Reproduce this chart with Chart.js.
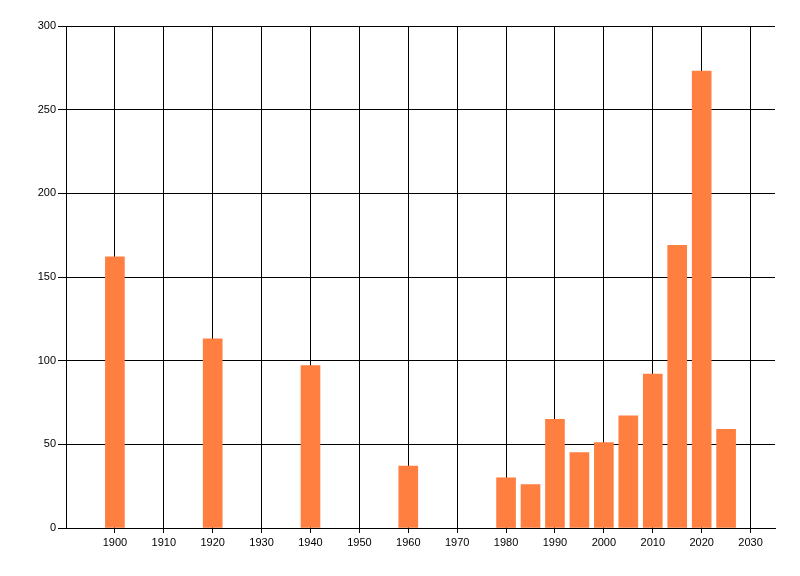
<!DOCTYPE html>
<html>
<head>
<meta charset="utf-8">
<script src="https://cdn.jsdelivr.net/npm/chart.js@4.4.1/dist/chart.umd.min.js"></script>
<style>
  html, body { margin: 0; padding: 0; background: #fff; }
</style>
</head>
<body>
<canvas id="chart" width="800" height="576"></canvas>
<script>
// values
const years = [1900, 1920, 1940, 1960, 1980, 1985, 1990, 1995, 2000, 2005, 2010, 2015, 2020, 2025];
const counts = [162, 113, 97, 37, 30, 26, 65, 45, 51, 67, 92, 169, 273, 59];
const xTickLabels = [1900, 1910, 1920, 1930, 1940, 1950, 1960, 1970, 1980, 1990, 2000, 2010, 2020, 2030];
const yTickLabels = [0, 50, 100, 150, 200, 250, 300];

const ctx = document.getElementById("chart").getContext("2d");

new Chart(ctx, {
    type: "bar",
    data: {
        datasets: [{
            data: years.map((y, i) => ({ x: y, y: counts[i] })),
            backgroundColor: "#FF7F40",
            borderWidth: 0,
            barThickness: 19
        }]
    },
    options: {
        responsive: false,
        animation: false,
        layout: { padding: { left: 0, top: 26, right: 25, bottom: 0 } },
        plugins: { legend: { display: false }, tooltip: { enabled: false } },
        scales: {
            x: {
                type: "linear",
                min: 1890,
                max: 2035,
                offset: false,
                afterBuildTicks: s => { s.ticks = xTickLabels.map(v => ({ value: v })); },
                afterFit: s => { s.height = 48; },
                grid: { color: "#000", lineWidth: 1, tickLength: 5, offset: false },
                border: { color: "#000", width: 1 },
                ticks: {
                    color: "#000",
                    padding: 3,
                    maxRotation: 0,
                    autoSkip: false,
                    callback: v => String(v),
                    font: { family: "'Liberation Sans', Arial, sans-serif", size: 11 }
                }
            },
            y: {
                min: 0,
                max: 300,
                afterBuildTicks: s => { s.ticks = yTickLabels.map(v => ({ value: v })); },
                afterFit: s => { s.width = 66; },
                grid: { color: "#000", lineWidth: 1, tickLength: 8 },
                border: { color: "#000", width: 1 },
                ticks: {
                    color: "#000",
                    padding: 2,
                    font: { family: "'Liberation Sans', Arial, sans-serif", size: 11 }
                }
            }
        }
    }
});
</script>
</body>
</html>
